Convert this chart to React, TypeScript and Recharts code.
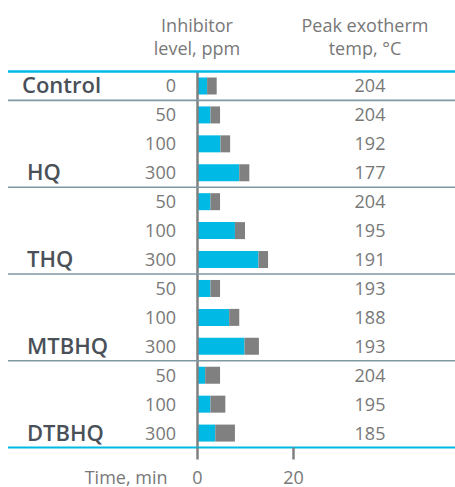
import React from "react";
import { BarChart, Bar, XAxis, YAxis, ReferenceLine } from "recharts";

const groups = ["Control", "HQ", "HQ", "HQ", "THQ", "THQ", "THQ", "MTBHQ", "MTBHQ", "MTBHQ", "DTBHQ", "DTBHQ", "DTBHQ"];
const ppmLevels = ["0", "50", "100", "300", "50", "100", "300", "50", "100", "300", "50", "100", "300"];
const gelTime = [2, 2.7, 4.8, 8.7, 2.7, 7.8, 12.7, 2.7, 6.6, 9.8, 1.6, 2.7, 3.7];
const cureTime = [2, 2, 2, 2.1, 2, 2.1, 2, 2, 2.1, 3, 3.1, 3.1, 4.1];
const peakTemps = [204, 204, 192, 177, 204, 195, 191, 193, 188, 193, 204, 195, 185];
const timeTicks = [0, 20];

const data = groups.map((g, i) => ({
  id: i,
  group: g,
  ppm: ppmLevels[i],
  gel: gelTime[i],
  cure: cureTime[i],
  temp: peakTemps[i],
}));

const W = 455;
const H = 487;
const M = { top: 70.5, right: 0, bottom: 0, left: 7 };
const XH = 39.5;
const PLOT_TOP = M.top + 1;
const ROW_H = (H - PLOT_TOP - M.bottom - XH) / data.length;

const CYAN = "#00b9e4";
const GRAY = "#808080";
const TEXT = "#787878";
const DARK = "#4a5058";
const SEP = "#7f98a4";
const FONT = "'Open Sans', sans-serif";

const RowTick = (props: any) => {
  const { y, payload } = props;
  const i = Number(payload.value);
  const d = data[i];
  const last = i === data.length - 1 || data[i + 1].group !== d.group;
  return (
    <g>
      {last && (
        <text x={i === 0 ? 22 : 27} y={y + 7.5} fill={DARK} fontSize={22} fontWeight={600} fontFamily={FONT}>
          {d.group}
        </text>
      )}
      <text x={176} y={y + 6.5} textAnchor="end" fill={TEXT} fontSize={18} fontFamily={FONT}>
        {d.ppm}
      </text>
      <text x={370} y={y + 6.5} textAnchor="middle" fill={TEXT} fontSize={18} fontFamily={FONT}>
        {d.temp}
      </text>
      {last && i < data.length - 1 && (
        <line x1={8} x2={455} y1={y + ROW_H / 2} y2={y + ROW_H / 2} stroke={SEP} strokeWidth={1.6} />
      )}
    </g>
  );
};

const TimeTick = (props: any) => {
  const { x, y, payload } = props;
  return (
    <g>
      <text x={x} y={y + 22} textAnchor="middle" fill={TEXT} fontSize={18} fontFamily={FONT}>
        {payload.value}
      </text>
      {payload.value === 0 && (
        <text x={x - 30} y={y + 22} textAnchor="end" fill={TEXT} fontSize={18} fontFamily={FONT}>
          Time, min
        </text>
      )}
    </g>
  );
};

const headerStyle: React.CSSProperties = {
  position: "absolute",
  width: 200,
  textAlign: "center",
  fontFamily: FONT,
  fontSize: 18,
  lineHeight: "23px",
  color: TEXT,
  top: 13.5,
};

const DOMAIN: [number, number] = [-39.48, 53.65];

export default function App() {
  return (
    <div style={{ position: "relative", width: W, height: H }}>
      <style>{`body{margin:0}`}</style>
      <div style={{ ...headerStyle, left: 197 - 100 }}>
        Inhibitor
        <br />
        level, ppm
      </div>
      <div style={{ ...headerStyle, left: 365 - 100 }}>
        Peak exotherm
        <br />
        temp, °C
      </div>
      <div style={{ position: "absolute", left: 0, top: 0 }}>
        <BarChart width={W} height={H} data={data} layout="vertical" margin={M} barSize={17}>
          <XAxis
            xAxisId="top"
            orientation="top"
            type="number"
            domain={DOMAIN}
            height={1}
            tick={false}
            tickLine={false}
            axisLine={{ stroke: CYAN, strokeWidth: 2.5 }}
          />
          <XAxis
            type="number"
            domain={DOMAIN}
            ticks={timeTicks}
            height={XH}
            tickSize={12}
            tickLine={{ stroke: GRAY, strokeWidth: 2.5 }}
            axisLine={{ stroke: CYAN, strokeWidth: 2 }}
            tick={<TimeTick />}
          />
          <YAxis
            type="category"
            dataKey="id"
            width={1}
            interval={0}
            axisLine={false}
            tickLine={false}
            tick={<RowTick />}
          />
          <Bar dataKey="gel" stackId="t" fill={CYAN} isAnimationActive={false} />
          <Bar dataKey="cure" stackId="t" fill={GRAY} isAnimationActive={false} />
          <ReferenceLine x={0} stroke={GRAY} strokeWidth={2.5} />
        </BarChart>
      </div>
    </div>
  );
}
